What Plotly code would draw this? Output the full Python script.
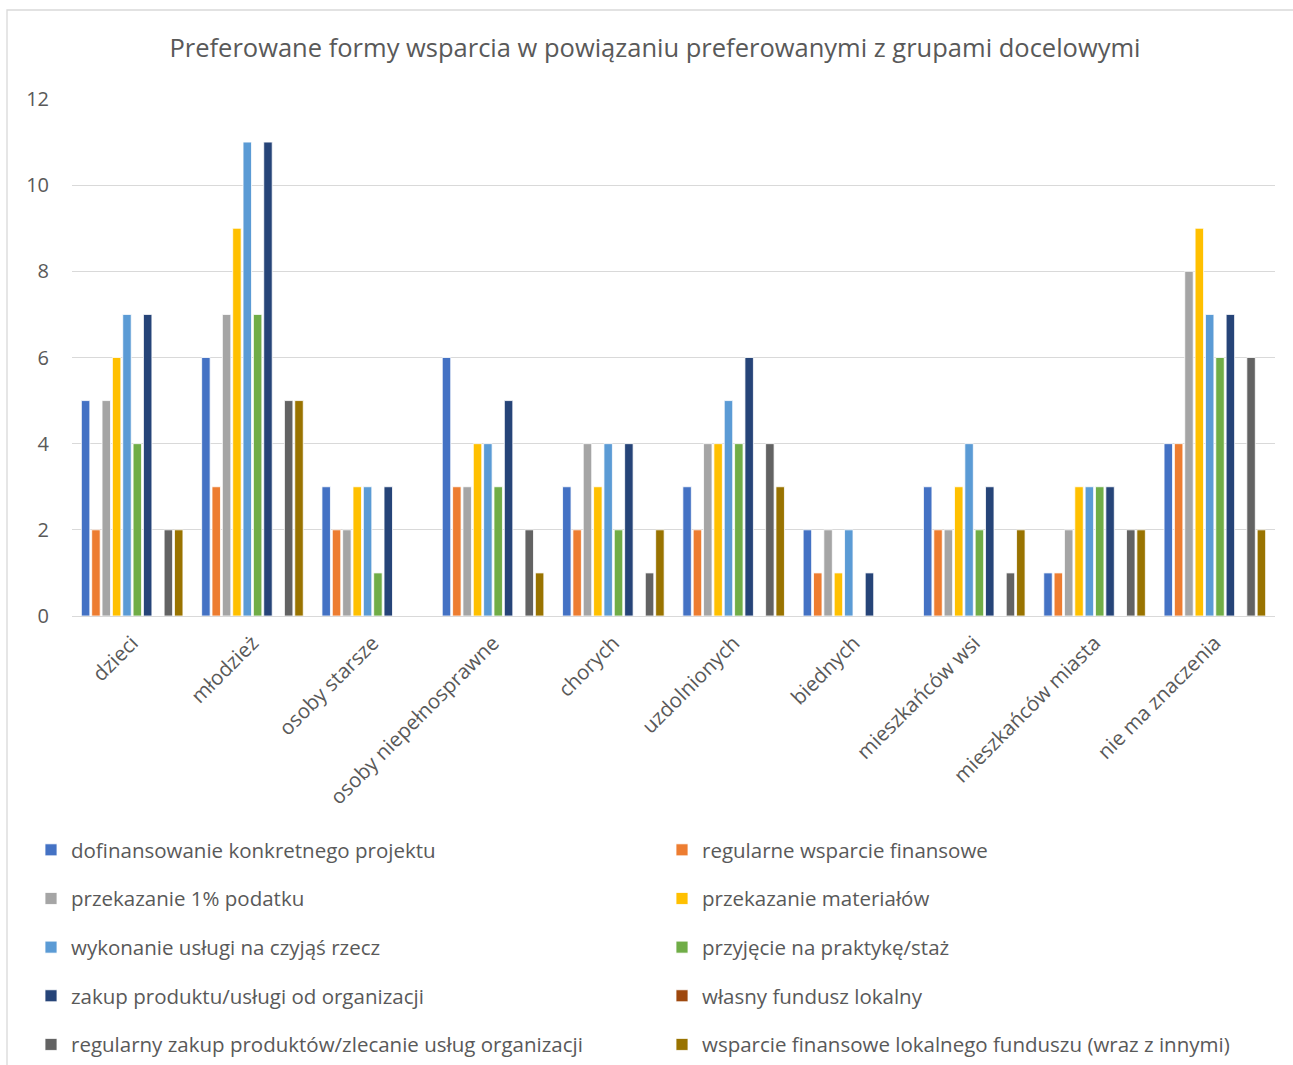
import plotly.graph_objects as go

categories = ["dzieci", "młodzież", "osoby starsze", "osoby niepełnosprawne", "chorych",
              "uzdolnionych", "biednych", "mieszkańców wsi", "mieszkańców miasta", "nie ma znaczenia"]

series_names = [
    "dofinansowanie konkretnego projektu",
    "regularne wsparcie finansowe",
    "przekazanie 1% podatku",
    "przekazanie materiałów",
    "wykonanie usługi na czyjąś rzecz",
    "przyjęcie na praktykę/staż",
    "zakup produktu/usługi od organizacji",
    "własny fundusz lokalny",
    "regularny zakup produktów/zlecanie usług organizacji",
    "wsparcie finansowe lokalnego funduszu (wraz z innymi)",
]

dofinansowanie = [5, 6, 3, 6, 3, 3, 2, 3, 1, 4]
regularne_wsparcie = [2, 3, 2, 3, 2, 2, 1, 2, 1, 4]
podatek_1proc = [5, 7, 2, 3, 4, 4, 2, 2, 2, 8]
materialy = [6, 9, 3, 4, 3, 4, 1, 3, 3, 9]
usluga = [7, 11, 3, 4, 4, 5, 2, 4, 3, 7]
praktyka = [4, 7, 1, 3, 2, 4, 0, 2, 3, 6]
zakup_produktu = [7, 11, 3, 5, 4, 6, 1, 3, 3, 7]
wlasny_fundusz = [0, 0, 0, 0, 0, 0, 0, 0, 0, 0]
regularny_zakup = [2, 5, 0, 2, 1, 4, 0, 1, 2, 6]
wsparcie_funduszu = [2, 5, 0, 1, 2, 3, 0, 2, 2, 2]

series_values = [dofinansowanie, regularne_wsparcie, podatek_1proc, materialy, usluga,
                 praktyka, zakup_produktu, wlasny_fundusz, regularny_zakup, wsparcie_funduszu]

colors = ["#4472C4", "#ED7D31", "#A5A5A5", "#FFC000", "#5B9BD5",
          "#70AD47", "#264478", "#9E480E", "#636363", "#997300"]

y_ticks = [0, 2, 4, 6, 8, 10, 12]

FONT = "Open Sans"
TXT = "#595959"

fig = go.Figure()
for i, (name, vals, col) in enumerate(zip(series_names, series_values, colors)):
    fig.add_trace(go.Bar(
        x=categories, y=vals, name=name,
        marker=dict(color=col, line=dict(color="white", width=0.8)),
        legend="legend" if i % 2 == 0 else "legend2",
        legendgroup=f"g{i}",
    ))

W, H = 1293, 1065
L, R, T, B = 72, 18, 99, 449
pw, ph = W - L - R, H - T - B

def px_x(x):
    return (x - L) / pw

def px_y(y):
    return (H - B - y) / ph

legend_common = dict(
    orientation="v", xanchor="left", yanchor="top",
    font=dict(family=FONT, size=20.5, color=TXT),
    tracegroupgap=19, bgcolor="rgba(0,0,0,0)", itemwidth=30,
)

fig.update_layout(
    width=W, height=H,
    margin=dict(l=L, r=R, t=T, b=B, autoexpand=False),
    paper_bgcolor="white", plot_bgcolor="white",
    font=dict(family=FONT, color=TXT),
    title=dict(
        text="Preferowane formy wsparcia w powiązaniu preferowanymi z grupami docelowymi",
        x=655 / W, xanchor="center", y=1 - 48 / H, yanchor="middle",
        font=dict(family=FONT, size=25.5, color=TXT),
    ),
    barmode="group", bargap=0.14, bargroupgap=0.18,
    showlegend=True,
    legend=dict(x=px_x(31), y=px_y(830), **legend_common),
    legend2=dict(x=px_x(662), y=px_y(830), **legend_common),
    xaxis=dict(
        tickangle=-45, tickfont=dict(family=FONT, size=20.5, color=TXT),
        showgrid=False, showline=False, ticks="", zeroline=False,
        ticklabelstandoff=10,
    ),
    yaxis=dict(
        range=[0, 12], tickvals=y_ticks, ticktext=[str(v) for v in y_ticks],
        tickfont=dict(family=FONT, size=20, color=TXT),
        showgrid=True, gridcolor="#D9D9D9", gridwidth=1.3,
        zeroline=True, zerolinecolor="#D9D9D9", zerolinewidth=1.3,
        showline=False, ticks="", ticklabelstandoff=22,
    ),
    shapes=[dict(
        type="rect", xref="paper", yref="paper",
        x0=px_x(7), x1=px_x(1300), y0=px_y(1075), y1=px_y(10),
        line=dict(color="#D9D9D9", width=1.3), fillcolor="rgba(0,0,0,0)", layer="below",
    )],
)

fig.write_html("out.html")
